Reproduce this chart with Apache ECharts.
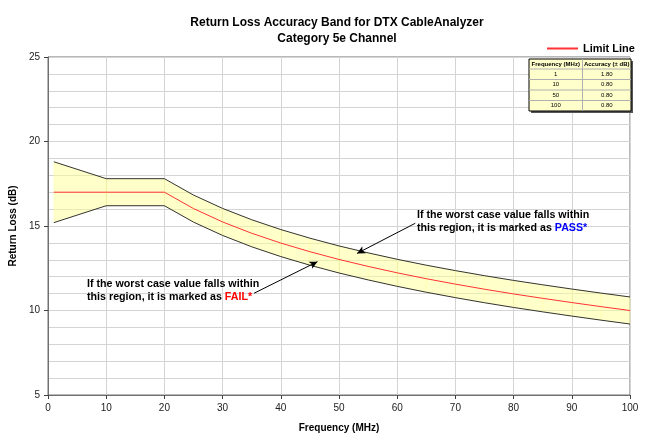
<!DOCTYPE html>
<html><head><meta charset="utf-8">
<script src="https://cdn.jsdelivr.net/npm/echarts@6/dist/echarts.min.js"></script>
<style>html,body{margin:0;padding:0;background:#fff}#c{width:650px;height:445px}</style>
</head><body><div id="c"></div>
<script>
// ---- data ----
const freq  = [1, 10, 20, 25, 30, 35, 40, 45, 50, 55, 60, 65, 70, 75, 80, 85, 90, 95, 100];
const limit = [17, 17, 17, 16.03, 15.24, 14.57, 13.99, 13.48, 13.02, 12.61, 12.23, 11.88, 11.56, 11.26, 10.98, 10.72, 10.47, 10.23, 10.0];
const upper = [18.8, 17.8, 17.8, 16.83, 16.04, 15.37, 14.79, 14.28, 13.82, 13.41, 13.03, 12.68, 12.36, 12.06, 11.78, 11.52, 11.27, 11.03, 10.8];
const lower = [15.2, 16.2, 16.2, 15.23, 14.44, 13.77, 13.19, 12.68, 12.22, 11.81, 11.43, 11.08, 10.76, 10.46, 10.18, 9.92, 9.67, 9.43, 9.2];
const tableHeader = ['Frequency (MHz)', 'Accuracy (\u00b1 dB)'];
const tableFreq = ['1', '10', '50', '100'];
const tableAcc  = ['1.80', '0.80', '0.80', '0.80'];
const passArrow = [[63.1, 15.16], [53.1, 13.38]];
const failArrow = [[35.4, 11.02], [46.3, 12.89]];

const F = 'Arial, "Liberation Sans", sans-serif';
const chart = echarts.init(document.getElementById('c'), null, {renderer: 'canvas'});

const bandData = [];
for (let i = 0; i < freq.length - 1; i++) {
  bandData.push([freq[i], lower[i], upper[i], freq[i+1], lower[i+1], upper[i+1]]);
}

// table graphic
const tx = 529, ty = 59, hh = 10, rh = 10.5, c1 = 53.5, c2 = 48.5;
const tH = hh + rh * tableFreq.length, tW = c1 + c2;
const tableEls = [];
const Z = 100;
tableEls.push({type: 'rect', z: Z, shape: {x: tx + 2, y: ty + 2, width: tW, height: tH}, style: {fill: '#555'}});
tableEls.push({type: 'rect', z: Z + 1, shape: {x: tx, y: ty, width: tW, height: tH}, style: {fill: '#FFFFCC', stroke: '#000', lineWidth: 1}});
tableEls.push({type: 'line', z: Z + 2, shape: {x1: tx + c1, y1: ty, x2: tx + c1, y2: ty + tH}, style: {stroke: '#b0b0b0', lineWidth: 1}});
for (let r = 0; r < tableFreq.length; r++) {
  const y = ty + hh + rh * r;
  tableEls.push({type: 'line', z: Z + 2, shape: {x1: tx, y1: y, x2: tx + tW, y2: y}, style: {stroke: '#b0b0b0', lineWidth: 1}});
}
tableEls.push({type: 'text', z: Z + 3, x: tx + c1 / 2, y: ty + hh / 2, style: {text: tableHeader[0], font: 'bold 6px ' + F, fill: '#000', align: 'center', verticalAlign: 'middle'}});
tableEls.push({type: 'text', z: Z + 3, x: tx + c1 + c2 / 2, y: ty + hh / 2, style: {text: tableHeader[1], font: 'bold 6px ' + F, fill: '#000', align: 'center', verticalAlign: 'middle'}});
for (let r = 0; r < tableFreq.length; r++) {
  const y = ty + hh + rh * r + rh / 2;
  tableEls.push({type: 'text', z: Z + 3, x: tx + c1 / 2, y: y, style: {text: tableFreq[r], font: '6px ' + F, fill: '#000', align: 'center', verticalAlign: 'middle'}});
  tableEls.push({type: 'text', z: Z + 3, x: tx + c1 + c2 / 2, y: y, style: {text: tableAcc[r], font: '6px ' + F, fill: '#000', align: 'center', verticalAlign: 'middle'}});
}

const option = {
  animation: false,
  backgroundColor: '#fff',
  title: {
    text: 'Return Loss Accuracy Band for DTX CableAnalyzer\nCategory 5e Channel',
    left: 332, top: 10, textAlign: 'center',
    textStyle: {fontFamily: F, fontSize: 12, fontWeight: 'bold', color: '#000', lineHeight: 16}
  },
  legend: {
    data: [{name: 'Limit Line', icon: 'rect'}],
    left: 542, top: 38, itemWidth: 31, itemHeight: 2, itemGap: 5,
    textStyle: {fontFamily: F, fontSize: 11, fontWeight: 'bold', color: '#000'}
  },
  grid: {left: 47, right: 20, top: 57, bottom: 50, show: true, borderColor: '#707070', borderWidth: 1, backgroundColor: 'transparent'},
  xAxis: {
    type: 'value', min: 0, max: 100, interval: 10,
    name: 'Frequency (MHz)', nameLocation: 'middle', nameGap: 28,
    nameTextStyle: {fontFamily: F, fontSize: 10, fontWeight: 'bold', color: '#000'},
    axisLine: {show: true, lineStyle: {color: '#707070'}},
    axisTick: {show: true, length: 4, lineStyle: {color: '#404040'}},
    axisLabel: {fontFamily: F, fontSize: 10, color: '#222', margin: 8},
    splitLine: {show: true, lineStyle: {color: '#d4d4d4', width: 1}}
  },
  yAxis: {
    type: 'value', min: 5, max: 25, interval: 5,
    name: 'Return Loss (dB)', nameLocation: 'middle', nameGap: 29, nameRotate: 90,
    nameTextStyle: {fontFamily: F, fontSize: 10, fontWeight: 'bold', color: '#000'},
    axisLine: {show: true, lineStyle: {color: '#707070'}},
    axisTick: {show: true, length: 4, lineStyle: {color: '#404040'}},
    axisLabel: {fontFamily: F, fontSize: 10, color: '#222', margin: 8},
    splitLine: {show: true, lineStyle: {color: '#d4d4d4', width: 1}},
    minorTick: {show: false, splitNumber: 5},
    minorSplitLine: {show: true, lineStyle: {color: '#d4d4d4', width: 1}}
  },
  series: [
    {
      type: 'custom', name: 'band', z: 1, silent: true,
      data: bandData,
      encode: {x: [0, 3], y: [1, 2, 4, 5]},
      renderItem: function (params, api) {
        const a = api.coord([api.value(0), api.value(1)]);
        const b = api.coord([api.value(0), api.value(2)]);
        const c = api.coord([api.value(3), api.value(5)]);
        const d = api.coord([api.value(3), api.value(4)]);
        return {type: 'polygon', shape: {points: [a, b, c, d]},
          style: {fill: 'rgba(255,255,150,0.5)', stroke: 'rgba(255,255,150,0.5)', lineWidth: 0.5}};
      }
    },
    {
      type: 'line', name: 'upper', z: 3, symbol: 'none', silent: true,
      data: freq.map((f, i) => [f, upper[i]]),
      lineStyle: {color: '#333', width: 1}
    },
    {
      type: 'line', name: 'lower', z: 3, symbol: 'none', silent: true,
      data: freq.map((f, i) => [f, lower[i]]),
      lineStyle: {color: '#333', width: 1}
    },
    {
      type: 'line', name: 'Limit Line', z: 4, symbol: 'none', silent: true,
      data: freq.map((f, i) => [f, limit[i]]),
      lineStyle: {color: '#FF3333', width: 1},
      itemStyle: {color: '#FF3333'},
      markLine: {
        silent: true, symbol: ['none', 'arrow'], symbolSize: [6, 8],
        label: {show: false},
        lineStyle: {color: '#000', width: 1, type: 'solid'},
        data: [
          [{coord: passArrow[0]}, {coord: passArrow[1]}],
          [{coord: failArrow[0]}, {coord: failArrow[1]}]
        ]
      }
    }
  ],
  graphic: tableEls.concat([
    {type: 'text', x: 417, y: 209, z: 100, style: {
      text: 'If the worst case value falls within\nthis region, it is marked as {p|PASS*}',
      font: 'bold 10.7px ' + F, fill: '#000', lineHeight: 13,
      rich: {p: {fill: '#0000FF', font: 'bold 10.7px ' + F}}
    }},
    {type: 'text', x: 87, y: 278, z: 100, style: {
      text: 'If the worst case value falls within\nthis region, it is marked as {f|FAIL*}',
      font: 'bold 10.7px ' + F, fill: '#000', lineHeight: 13,
      rich: {f: {fill: '#FF0000', font: 'bold 10.7px ' + F}}
    }}
  ])
};
chart.setOption(option);
</script></body></html>
